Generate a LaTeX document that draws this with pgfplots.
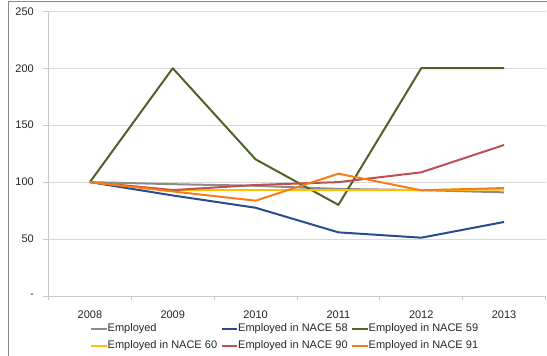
\documentclass[border=0pt]{standalone}
\usepackage{pgfplots}
\pgfplotsset{compat=1.18}
\usepackage{fontspec}
\setmainfont{Liberation Sans}
\definecolor{cEmp}{HTML}{8C8C8C}
\definecolor{cN58}{HTML}{2A4B8D}
\definecolor{cN59}{HTML}{4F6228}
\definecolor{cN60}{HTML}{FFC000}
\definecolor{cN90}{HTML}{C0504D}
\definecolor{cN91}{HTML}{F27F1B}
\definecolor{cGrid}{HTML}{D9D9D9}
\definecolor{cAxis}{HTML}{C8C8C8}
\definecolor{cFrame}{HTML}{8A8A8A}
\newcommand{\lf}{\fontsize{11bp}{13bp}\selectfont}
\newcommand{\legbox}[1]{\makebox[112.8bp][l]{#1}}
\begin{document}
\begin{tikzpicture}
\useasboundingbox (-48.5bp,-60bp) rectangle (498.5bp,296bp);
\draw[cFrame, line width=1bp] (-39.5bp,-60bp) -- (-39.5bp,294.5bp) -- (498.5bp,294.5bp);
\begin{axis}[
  at={(0,0)}, anchor=south west,
  scale only axis, width=497bp, height=284.7bp,
  xmin=-0.5, xmax=5.5, ymin=0, ymax=250,
  axis x line*=bottom, axis y line*=left,
  axis line style={cAxis, line width=0.8bp},
  xtick={0,1,2,3,4,5},
  xticklabels={2008,2009,2010,2011,2012,2013},
  minor xtick={-0.5,0.5,1.5,2.5,3.5,4.5,5.5},
  ytick={0,50,100,150,200,250},
  yticklabels={-,50,100,150,200,250},
  tick align=outside,
  x tick style={draw=none},
  minor x tick style={draw=cAxis, line width=0.8bp},
  minor tick length=4bp,
  y tick style={draw=cAxis, line width=0.8bp},
  major tick length=5bp,
  ymajorgrids, grid style={cGrid, line width=0.8bp},
  tick label style={font=\lf, text=black!85},
  xticklabel style={anchor=base, inner sep=0pt, yshift=-17bp},
  yticklabel style={inner sep=0pt, xshift=-9.5bp},
  no markers,
  every axis plot/.append style={line width=2bp, line join=round},
  legend columns=3,
  legend cell align=left,
  legend image code/.code={\draw[#1, line width=2bp] (0bp,0bp) -- (15.7bp,0bp);},
  legend style={at={(rel axis cs:0,0)}, anchor=north west, xshift=41.5bp, yshift=-27.75bp,
    draw=none, fill=none, inner sep=0pt, outer sep=0pt, column sep=0pt, row sep=6.5bp,
    font=\lf, text=black!85, nodes={inner sep=0pt, text height=8bp, text depth=2.5bp}},
]
\addplot[cEmp] coordinates {(0,100) (1,98.2) (2,96.8) (3,94) (4,93) (5,91)};
\addlegendentry{\legbox{Employed}}
\addplot[cN58] coordinates {(0,100) (1,88.3) (2,77.5) (3,55.9) (4,51.2) (5,65)};
\addlegendentry{\legbox{Employed in NACE 58}}
\addplot[cN59] coordinates {(0,100) (1,200) (2,120) (3,80) (4,200) (5,200)};
\addlegendentry{\legbox{Employed in NACE 59}}
\addplot[cN60] coordinates {(0,100) (1,93) (2,93) (3,93) (4,93) (5,93.5)};
\addlegendentry{\legbox{Employed in NACE 60}}
\addplot[cN90] coordinates {(0,100) (1,93) (2,97.5) (3,100) (4,108.6) (5,132.6)};
\addlegendentry{\legbox{Employed in NACE 90}}
\addplot[cN91] coordinates {(0,100) (1,91.8) (2,83.7) (3,107.4) (4,92.8) (5,94.8)};
\addlegendentry{\legbox{Employed in NACE 91}}
\end{axis}
\end{tikzpicture}
\end{document}
